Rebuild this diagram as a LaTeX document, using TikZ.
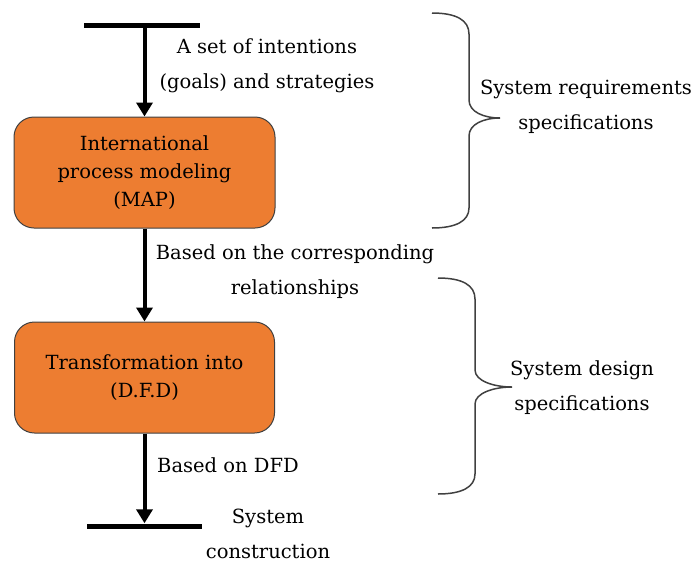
\documentclass[tikz,border=0pt]{standalone}
\usepackage{fontspec}
\setmainfont{DejaVu Serif}
\usetikzlibrary{arrows.meta}
\definecolor{boxorange}{HTML}{ED7D31}
\definecolor{boxedge}{HTML}{404040}
\definecolor{bracegray}{HTML}{404040}
\begin{document}
\begin{tikzpicture}[x=1pt,y=-1pt,
  procbox/.style={draw=boxedge, line width=1pt, fill=boxorange, rounded corners=20pt,
    minimum width=261pt, minimum height=111pt, align=center, inner sep=0pt,
    font=\fontsize{19.5}{28}\selectfont},
  lbl/.style={align=center, inner sep=0pt, font=\fontsize{19.5}{35}\selectfont},
  barnode/.style={fill=black, minimum width=116pt, minimum height=5pt, inner sep=0pt},
  flow/.style={line width=4pt, -{Triangle[length=14pt,width=16pt]}},
  bracepath/.style={draw=bracegray, line width=1.5pt}
]
\useasboundingbox (0,0) rectangle (697,563);
\node[barnode] (topbar) at (142,25) {};
\node[procbox] (map) at (144.5,172.5) {International\\process modeling\\(MAP)};
\node[procbox, minimum width=260pt] (dfd) at (144.5,377.5) {Transformation into\\(D.F.D)};
\node[barnode, minimum width=115pt] (botbar) at (144.5,526) {};

\draw[flow] (map.north |- topbar.center) -- (map.north);
\draw[flow] (map.south) -- (dfd.north);
\draw[flow] (dfd.south) -- (botbar.north);

\node[lbl] (l1) at (267,66) {A set of intentions\\(goals) and strategies};
\node[lbl] (l2) at (295,272) {Based on the corresponding\\relationships};
\node[lbl, anchor=west] (l3) at (157,465) {Based on DFD};
\node[lbl] (l4) at (268,534) {System\\construction};
\node[lbl] (r1) at (586,107) {System requirements\\specifications};
\node[lbl] (r2) at (582,388) {System design\\specifications};

% brace 1
\draw[bracepath] (432,13) .. controls (456,13) and (469,20) .. (469,34)
  -- (469,100) .. controls (469,112) and (484,118) .. (500,118)
  .. controls (484,118) and (469,124) .. (469,136)
  -- (469,208) .. controls (469,221) and (456,228) .. (432,228);
% brace 2
\draw[bracepath] (438,278) .. controls (462,278) and (475,285) .. (475,299)
  -- (475,370) .. controls (475,381) and (494,387) .. (512,387)
  .. controls (494,387) and (475,393) .. (475,404)
  -- (475,474) .. controls (475,487) and (462,494) .. (438,494);
\end{tikzpicture}
\end{document}
